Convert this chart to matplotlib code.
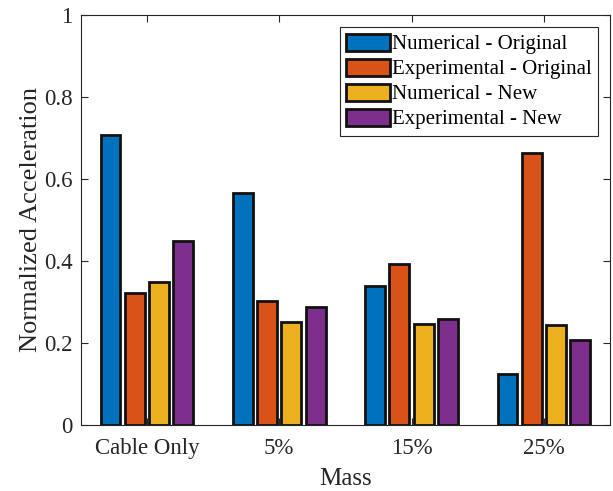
import matplotlib
matplotlib.use('Agg')
import matplotlib.pyplot as plt
import numpy as np

# Values
groups = ['Cable Only', '5%', '15%', '25%']
series_names = ['Numerical - Original', 'Experimental - Original',
                'Numerical - New', 'Experimental - New']
numerical_original = [0.707, 0.566, 0.340, 0.124]
experimental_original = [0.321, 0.303, 0.392, 0.664]
numerical_new = [0.349, 0.251, 0.246, 0.244]
experimental_new = [0.448, 0.288, 0.258, 0.208]

colors = ['#0072BD', '#D95319', '#EDB120', '#7E2F8E']
offsets = [-0.275, -0.092, 0.092, 0.275]
bar_width = 0.15

plt.rcParams['font.family'] = ['Liberation Serif', 'DejaVu Serif']
plt.rcParams['font.size'] = 15

fig = plt.figure(figsize=(6.13, 4.91), dpi=100)
ax = fig.add_axes([0.1317, 0.1344, 0.8635, 0.8356])

x = np.arange(1, len(groups) + 1)
all_series = [numerical_original, experimental_original, numerical_new, experimental_new]
for vals, name, col, off in zip(all_series, series_names, colors, offsets):
    ax.bar(x + off, vals, width=bar_width, color=col, edgecolor='#111111',
           linewidth=2.0, label=name, zorder=2)

ax.set_xlim(0.5, 4.5)
ax.set_ylim(0, 1)
ax.set_xticks(x)
ax.set_xticklabels(groups)
ax.set_yticks([0, 0.2, 0.4, 0.6, 0.8, 1])
ax.set_yticklabels(['0', '0.2', '0.4', '0.6', '0.8', '1'])

ax.tick_params(direction='in', top=True, right=True, length=5, width=0.8,
               colors='#262626', labelsize=16.5)
ax.tick_params(axis='x', pad=9)
ax.tick_params(axis='y', pad=6)
for s in ax.spines.values():
    s.set_color('#262626')
    s.set_linewidth(0.8)
    s.set_zorder(3)

ax.set_xlabel('Mass', fontsize=18, color='#262626', labelpad=7)
ax.set_ylabel('Normalized Acceleration', fontsize=19, color='#262626', labelpad=1)

leg = ax.legend(loc='upper right', bbox_to_anchor=(0.9768, 0.9693), borderaxespad=0,
                fancybox=False, framealpha=1, edgecolor='#262626', fontsize=15,
                handlelength=2.1, handleheight=0.9, handletextpad=0.1,
                labelspacing=0.2, borderpad=0.3)
leg.get_frame().set_linewidth(0.8)

fig.savefig('out.png', dpi=100)
